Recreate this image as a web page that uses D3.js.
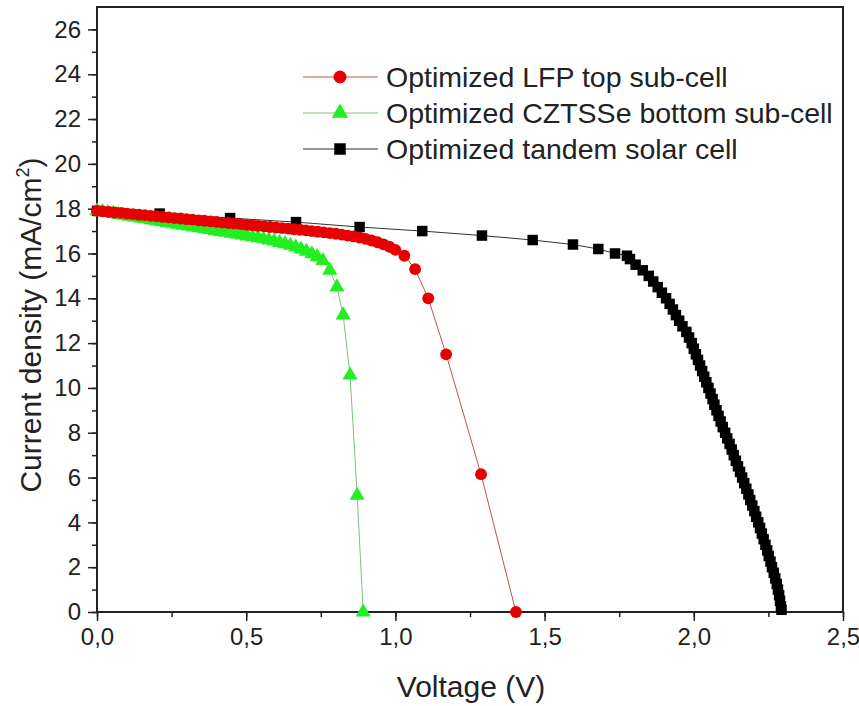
<!doctype html>
<html>
<head>
<meta charset="utf-8">
<style>
    body { margin: 0; background: #fff; }
    text { font-family: "Liberation Sans", Arial, sans-serif; fill: #222; }
</style>
<script src="https://d3js.org/d3.v7.min.js"></script>
</head>
<body>
<svg id="svg1" width="859" height="706"></svg>
<script>
// data: voltage (V) and current density (mA/cm2)
var lfpV = [0.00, 0.02, 0.04, 0.06, 0.08, 0.10, 0.12, 0.14, 0.16, 0.18,
            0.20, 0.22, 0.24, 0.26, 0.28, 0.30, 0.32, 0.34, 0.36, 0.38,
            0.40, 0.42, 0.44, 0.46, 0.48, 0.50, 0.52, 0.54, 0.56, 0.58,
            0.60, 0.62, 0.64, 0.66, 0.68, 0.70, 0.72, 0.74, 0.76, 0.78,
            0.80, 0.82, 0.84, 0.86, 0.88, 0.90, 0.92, 0.94, 0.96, 0.98,
            1.00, 1.03, 1.066, 1.11, 1.17, 1.287, 1.404];
var lfpJ = [17.90, 17.88, 17.86, 17.83, 17.81, 17.78, 17.76, 17.73, 17.71, 17.68,
            17.66, 17.63, 17.61, 17.58, 17.56, 17.53, 17.51, 17.48, 17.46, 17.43,
            17.41, 17.38, 17.36, 17.33, 17.31, 17.28, 17.26, 17.23, 17.21, 17.18,
            17.16, 17.13, 17.11, 17.08, 17.06, 17.03, 17.00, 16.97, 16.94, 16.91,
            16.88, 16.84, 16.80, 16.76, 16.71, 16.65, 16.58, 16.50, 16.41, 16.30,
            16.16, 15.90, 15.30, 14.00, 11.50, 6.15, 0.00];

var cztsV = [0.000, 0.018, 0.036, 0.054, 0.072, 0.090, 0.108, 0.126, 0.144, 0.162,
             0.180, 0.198, 0.216, 0.234, 0.252, 0.270, 0.288, 0.306, 0.324, 0.342,
             0.360, 0.378, 0.396, 0.414, 0.432, 0.450, 0.468, 0.486, 0.504, 0.522,
             0.540, 0.558, 0.576, 0.594, 0.612, 0.630, 0.648, 0.666, 0.684, 0.702,
             0.720, 0.738, 0.757, 0.780, 0.804, 0.825, 0.848, 0.872, 0.892];
var cztsJ = [17.90, 17.86, 17.82, 17.78, 17.74, 17.70, 17.66, 17.62, 17.58, 17.54,
             17.50, 17.46, 17.42, 17.38, 17.34, 17.30, 17.26, 17.22, 17.18, 17.14,
             17.10, 17.06, 17.02, 16.98, 16.94, 16.90, 16.86, 16.82, 16.78, 16.74,
             16.70, 16.65, 16.60, 16.55, 16.49, 16.43, 16.36, 16.28, 16.19, 16.09,
             15.98, 15.85, 15.68, 15.25, 14.50, 13.25, 10.57, 5.20, 0.00];

var tandemV = [0.000, 0.210, 0.446, 0.667, 0.880, 1.090, 1.290, 1.460, 1.595, 1.680,
               1.736, 1.776, 1.786, 1.805, 1.829, 1.849, 1.864, 1.879, 1.893, 1.907,
               1.919, 1.930, 1.940, 1.951, 1.962, 1.975, 1.984, 1.993, 2.000, 2.007,
               2.014, 2.021, 2.028, 2.035, 2.042, 2.049, 2.056, 2.063, 2.069, 2.076,
               2.083, 2.090, 2.097, 2.105, 2.112, 2.120, 2.127, 2.134, 2.141, 2.148,
               2.155, 2.162, 2.169, 2.176, 2.183, 2.189, 2.196, 2.203, 2.209, 2.216,
               2.222, 2.228, 2.234, 2.240, 2.246, 2.251, 2.257, 2.262, 2.268, 2.273,
               2.278, 2.282, 2.286, 2.289, 2.292, 2.294];
var tandemJ = [17.90, 17.78, 17.58, 17.40, 17.18, 17.00, 16.80, 16.60, 16.40, 16.20,
               16.00, 15.90, 15.75, 15.50, 15.25, 15.00, 14.75, 14.50, 14.25, 14.00,
               13.75, 13.50, 13.25, 13.00, 12.75, 12.50, 12.25, 12.00, 11.75, 11.50,
               11.25, 11.00, 10.75, 10.50, 10.25, 10.00, 9.75, 9.50, 9.25, 9.00,
               8.75, 8.50, 8.25, 8.00, 7.75, 7.50, 7.25, 7.00, 6.75, 6.50,
               6.25, 6.00, 5.75, 5.50, 5.25, 5.00, 4.75, 4.50, 4.25, 4.00,
               3.75, 3.50, 3.25, 3.00, 2.75, 2.50, 2.25, 2.00, 1.75, 1.50,
               1.25, 1.00, 0.75, 0.50, 0.25, 0.10];

var seriesNames = ["Optimized LFP top sub-cell",
                   "Optimized CZTSSe bottom sub-cell",
                   "Optimized tandem solar cell"];
var xTicks = [0, 0.5, 1.0, 1.5, 2.0, 2.5];
var yTicks = [0, 2, 4, 6, 8, 10, 12, 14, 16, 18, 20, 22, 24, 26];

// plot box
var svg = d3.select("#svg1"),
    plotL = 97, plotR = 843, plotT = 7, plotB = 612;

var xScale = d3.scaleLinear().domain([0, 2.5]).range([plotL, plotR]),
    yScale = d3.scaleLinear().domain([0, 27]).range([plotB, plotT]);

var fmt = function(d) { return d3.format(".1f")(d).replace(".", ","); };

// minor ticks
var xAxisMinor = d3.axisBottom(xScale).tickValues(d3.range(0, 2.51, 0.25))
    .tickSize(5).tickFormat("");
var yAxisMinor = d3.axisLeft(yScale).tickValues(d3.range(0, 27, 1))
    .tickSize(5).tickFormat("");

svg.append("g").attr("transform", "translate(0," + plotB + ")").call(xAxisMinor);
svg.append("g").attr("transform", "translate(" + plotL + ",0)").call(yAxisMinor);

// major ticks with labels
var gx = svg.append("g")
    .attr("transform", "translate(0," + plotB + ")")
    .call(d3.axisBottom(xScale).tickValues(xTicks).tickSize(9).tickPadding(7).tickFormat(fmt));
var gy = svg.append("g")
    .attr("transform", "translate(" + plotL + ",0)")
    .call(d3.axisLeft(yScale).tickValues(yTicks).tickSize(9).tickPadding(7).tickFormat(d3.format("d")));

svg.selectAll(".domain").remove();
svg.selectAll(".tick line").attr("stroke", "#222").attr("stroke-width", 1.5);
gx.selectAll("text").attr("font-size", "24px").attr("fill", "#222");
gy.selectAll("text").attr("font-size", "24px").attr("fill", "#222");

// frame
svg.append("rect")
    .attr("x", plotL).attr("y", plotT)
    .attr("width", plotR - plotL).attr("height", plotB - plotT)
    .attr("fill", "none").attr("stroke", "#222").attr("stroke-width", 2);

// axis titles
svg.append("text")
    .attr("x", 471).attr("y", 697)
    .attr("text-anchor", "middle")
    .attr("font-size", "30px")
    .text("Voltage (V)");

var yt = svg.append("text")
    .attr("transform", "translate(41,325) rotate(-90)")
    .attr("text-anchor", "middle")
    .attr("font-size", "30px");
yt.append("tspan").text("Current density (mA/cm");
yt.append("tspan").attr("font-size", "18px").attr("dy", "-12").text("2");
yt.append("tspan").attr("dy", "12").text(")");

// series
var series = [
    { v: lfpV, j: lfpJ, color: "#e60000", line: "#c85050", shape: d3.symbolCircle, size: 110 },
    { v: cztsV, j: cztsJ, color: "#22ee22", line: "#7bc47b", shape: d3.symbolTriangle, size: 100 },
    { v: tandemV, j: tandemJ, color: "#000000", line: "#333333", shape: d3.symbolSquare, size: 110 }
];

var line = d3.line()
    .x(function(d) { return xScale(d[0]); })
    .y(function(d) { return yScale(d[1]); });

// draw back to front: tandem, then CZTSSe, then LFP on top
[2, 1, 0].forEach(function(i) {
    var s = series[i];
    var pts = s.v.map(function(v, k) { return [v, s.j[k]]; });
    var g = svg.append("g");
    g.append("path")
        .datum(pts)
        .attr("d", line)
        .attr("fill", "none")
        .attr("stroke", s.line)
        .attr("stroke-width", 1);
    g.selectAll("path.pt")
        .data(pts)
        .enter().append("path")
        .attr("class", "pt")
        .attr("transform", function(d) { return "translate(" + xScale(d[0]) + "," + yScale(d[1]) + ")"; })
        .attr("d", d3.symbol().type(s.shape).size(s.size))
        .attr("fill", s.color);
});

// legend
var legend = svg.append("g");
series.forEach(function(s, i) {
    var ly = 77 + i * 36;
    legend.append("line")
        .attr("x1", 303).attr("x2", 378)
        .attr("y1", ly).attr("y2", ly)
        .attr("stroke", s.line).attr("stroke-width", 1);
    legend.append("path")
        .attr("transform", "translate(340," + ly + ")")
        .attr("d", d3.symbol().type(s.shape).size(s.size * 1.2))
        .attr("fill", s.color);
    legend.append("text")
        .attr("x", 386).attr("y", ly + 10)
        .attr("font-size", "28.5px")
        .text(seriesNames[i]);
});
</script>
</body>
</html>
